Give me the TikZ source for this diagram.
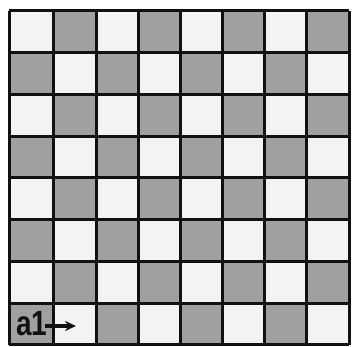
\documentclass[tikz,border=0pt]{standalone}
\usepackage{fontspec}
\setmainfont{Liberation Sans}
\usetikzlibrary{arrows.meta}
\definecolor{darksq}{HTML}{A0A0A0}
\definecolor{lightsq}{HTML}{F3F3F3}
\definecolor{gridline}{HTML}{111111}
\tikzset{
  darkcell/.style={fill=darksq},
  lightcell/.style={fill=lightsq},
  gridstroke/.style={draw=gridline, line width=3pt},
  lbl/.style={font=\bfseries\fontsize{35}{35}\selectfont, text=gridline, inner sep=0pt, anchor=base west, xscale=0.8},
  arr/.style={draw=gridline, line width=3.2pt, -{Stealth[length=11pt,width=10pt]}}
}
\begin{document}
\begin{tikzpicture}[x=1pt,y=1pt]
\useasboundingbox[fill=white] (0,0) rectangle (353,347);
% grid line positions (image px; y measured from top)
\def\xs{{9,53,96,138,180,222,264,306,349}}
\def\ys{{11,53,95,137,178,220,262,304,345}}
\foreach \i in {0,...,7}{
  \foreach \j in {0,...,7}{
    \pgfmathsetmacro{\xa}{\xs[\i]}
    \pgfmathsetmacro{\xb}{\xs[\i+1]}
    \pgfmathsetmacro{\ya}{347-\ys[\j]}
    \pgfmathsetmacro{\yb}{347-\ys[\j+1]}
    \pgfmathtruncatemacro{\cellpar}{mod(\i+\j,2)}
    \ifnum\cellpar=0
      \fill[lightcell] (\xa,\ya) rectangle (\xb,\yb);
    \else
      \fill[darkcell] (\xa,\ya) rectangle (\xb,\yb);
    \fi
  }
}
\foreach \i in {0,...,8}{
  \pgfmathsetmacro{\xa}{\xs[\i]}
  \draw[gridstroke] (\xa,347-11) -- (\xa,347-345);
}
\foreach \j in {0,...,8}{
  \pgfmathsetmacro{\ya}{347-\ys[\j]}
  \draw[gridstroke] (9,\ya) -- (349,\ya);
}
\node[lbl] (a1) at (16,347-336) {a1};
\coordinate (tip) at (76,347-326);
\draw[arr] ([xshift=-2pt]a1.east |- tip) -- (tip);
\end{tikzpicture}
\end{document}
